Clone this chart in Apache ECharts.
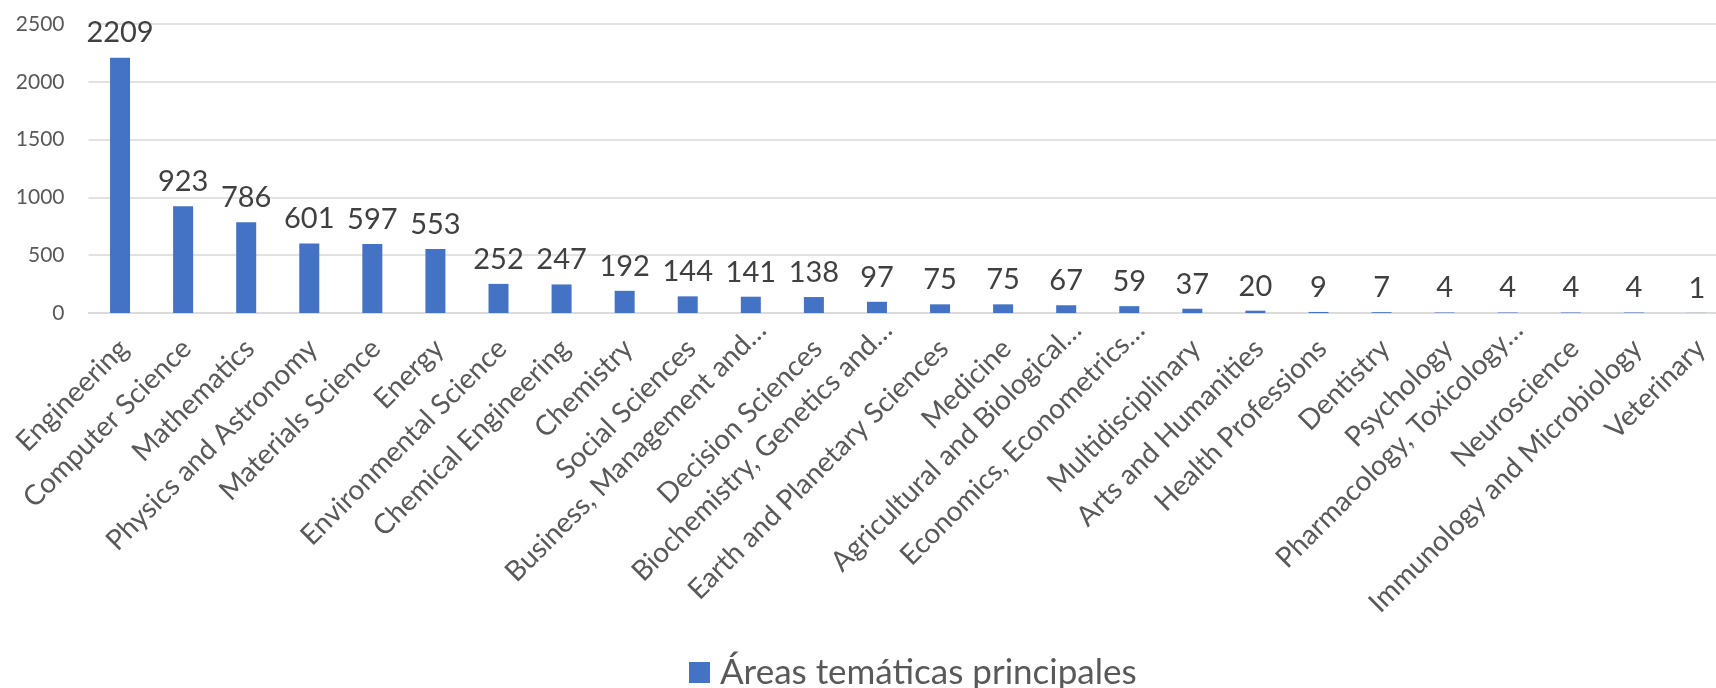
<!DOCTYPE html>
<html>
<head>
<meta charset="utf-8">
<title>Áreas temáticas principales</title>
<script src="https://cdn.jsdelivr.net/npm/echarts@6/dist/echarts.min.js"></script>
<style>
  html, body { margin: 0; padding: 0; background: #ffffff; }
  #chart { width: 1716px; height: 688px; }
</style>
</head>
<body>
<div id="chart"></div>
<script>
// Subject areas (labels as shown on the axis, long names shortened)
const categories = [
  'Engineering', 'Computer Science', 'Mathematics', 'Physics and Astronomy',
  'Materials Science', 'Energy', 'Environmental Science', 'Chemical Engineering',
  'Chemistry', 'Social Sciences', 'Business, Management and…', 'Decision Sciences',
  'Biochemistry, Genetics and…', 'Earth and Planetary Sciences', 'Medicine',
  'Agricultural and Biological…', 'Economics, Econometrics…', 'Multidisciplinary',
  'Arts and Humanities', 'Health Professions', 'Dentistry', 'Psychology',
  'Pharmacology, Toxicology…', 'Neuroscience', 'Immunology and Microbiology', 'Veterinary'
];

// Document count per subject area
const counts = [
  2209, 923, 786, 601, 597, 553, 252, 247, 192, 144, 141, 138, 97,
  75, 75, 67, 59, 37, 20, 9, 7, 4, 4, 4, 4, 1
];

const seriesName = 'Áreas temáticas principales';
const yTicks = { min: 0, max: 2500, interval: 500 };

const FONT = 'Lato, "Noto Sans", sans-serif';

// Shortened names sit a little further along their slant than full names
const axisData = categories.map((name) =>
  name.endsWith('…')
    ? { value: name, textStyle: { verticalAlign: 'top', padding: [1, 0, 0, 0] } }
    : name
);

const chart = echarts.init(document.getElementById('chart'), null, { renderer: 'canvas' });

chart.setOption({
  animation: false,
  backgroundColor: '#ffffff',
  textStyle: { fontFamily: FONT },
  grid: {
    left: 88.5,
    right: -12.5,
    top: 24,
    bottom: 375,
    containLabel: false,
    outerBoundsMode: 'none'
  },
  legend: {
    data: [seriesName],
    left: 684,
    top: 650,
    itemWidth: 21,
    itemHeight: 21,
    icon: 'rect',
    textStyle: {
      fontFamily: FONT,
      fontSize: 35,
      color: '#595959',
      padding: [0, 0, 0, 5]
    }
  },
  xAxis: {
    type: 'category',
    data: axisData,
    axisLine: { show: true, lineStyle: { color: '#D9D9D9', width: 1.5 } },
    axisTick: { show: false },
    axisLabel: {
      interval: 0,
      rotate: 45,
      margin: 2,
      verticalAlign: 'top',
      padding: [9, 18, 0, 0],
      fontSize: 28,
      fontFamily: FONT,
      color: '#595959'
    }
  },
  yAxis: {
    type: 'value',
    min: yTicks.min,
    max: yTicks.max,
    interval: yTicks.interval,
    axisLine: { show: false },
    axisTick: { show: false },
    splitLine: { lineStyle: { color: '#D9D9D9', width: 1.5 } },
    axisLabel: {
      margin: 24,
      fontSize: 21,
      fontFamily: FONT,
      color: '#595959',
      formatter: (v) => String(v)
    }
  },
  series: [{
    name: seriesName,
    type: 'bar',
    data: counts,
    barWidth: 20,
    itemStyle: { color: '#4472C4' },
    label: {
      show: true,
      position: 'top',
      distance: 10,
      fontSize: 29,
      fontFamily: FONT,
      color: '#404040'
    }
  }]
});
</script>
</body>
</html>
